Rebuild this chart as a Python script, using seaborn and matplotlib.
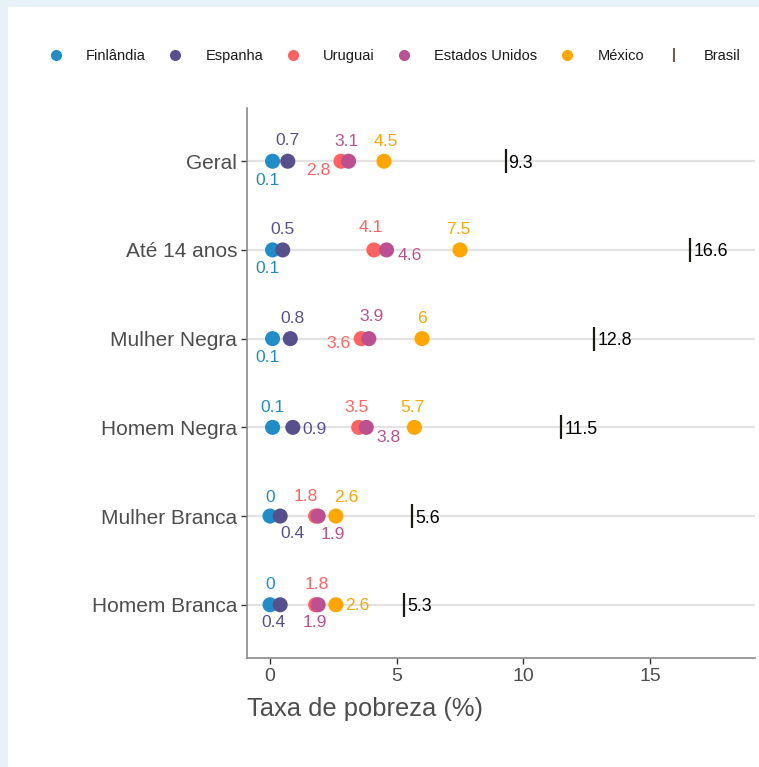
import matplotlib
matplotlib.use("Agg")
import matplotlib.pyplot as plt
from matplotlib.lines import Line2D
from matplotlib.patches import Rectangle
import seaborn as sns
import pandas as pd

# ---------------- data ----------------
categories = ["Geral", "Até 14 anos", "Mulher Negra", "Homem Negra",
              "Mulher Branca", "Homem Branca"]
finlandia = [0.1, 0.1, 0.1, 0.1, 0.0, 0.0]
espanha = [0.7, 0.5, 0.8, 0.9, 0.4, 0.4]
uruguai = [2.8, 4.1, 3.6, 3.5, 1.8, 1.8]
estados_unidos = [3.1, 4.6, 3.9, 3.8, 1.9, 1.9]
mexico = [4.5, 7.5, 6.0, 5.7, 2.6, 2.6]
brasil = [9.3, 16.6, 12.8, 11.5, 5.6, 5.3]

countries = ["Finlândia", "Espanha", "Uruguai", "Estados Unidos", "México"]
series = [finlandia, espanha, uruguai, estados_unidos, mexico]
x_ticks = [0, 5, 10, 15]
x_label = "Taxa de pobreza (%)"

# ---------------- style ----------------
colors = {"Finlândia": "#1f8dc8", "Espanha": "#58508d", "Uruguai": "#ff6361",
          "Estados Unidos": "#bc5090", "México": "#ffa600"}
brasil_color = "#1a1a14"
grey_text = "#4d4d4d"

# label offsets (pixels) per country per row
offsets = {
    "Finlândia": [(-5, -19), (-5, -19), (-5, -19), (0, 20), (0, 19), (0, 20)],
    "Espanha": [(0, 21), (0, 20), (2, 20), (22, -2), (12, -17), (-7, -18)],
    "Uruguai": [(-23, -9), (-3, 22), (-23, -5), (-2, 20), (-10, 20), (1, 20)],
    "Estados Unidos": [(-2, 20), (23, -6), (3, 22), (22, -10), (15, -18), (-3, -18)],
    "México": [(2, 20), (-2, 20), (0, 20), (-2, 20), (10, 19), (21, -1)],
}

rows = []
for c, vals in zip(countries, series):
    for i, v in enumerate(vals):
        rows.append({"pais": c, "cat": categories[i], "pos": i, "valor": v})
df = pd.DataFrame(rows)
df_br = pd.DataFrame({"cat": categories, "pos": range(len(categories)), "valor": brasil})

sns.set_theme(style="white")
plt.rcParams["font.family"] = ["Liberation Sans", "DejaVu Sans"]

W, H = 759, 767
fig = plt.figure(figsize=(W / 100, H / 100), dpi=100)
fig.patch.set_facecolor("#e6f1f8")
fig.add_artist(Rectangle((8 / W, 0), 1, 1 - 7 / H, transform=fig.transFigure,
                         facecolor="white", edgecolor="none", zorder=-10))

ax = fig.add_axes([247 / W, 1 - 658 / H, (755 - 247) / W, (658 - 108) / H])
ax.set_facecolor("white")

# grid lines
for i in range(len(categories)):
    ax.axhline(i, color="#e3e3e3", lw=1.6, zorder=0)

sns.scatterplot(data=df, x="valor", y="pos", hue="pais", hue_order=countries,
                palette=colors, s=118, linewidth=0, ax=ax, legend=False, zorder=3)
sns.scatterplot(data=df_br, x="valor", y="pos", marker="|", s=280, linewidth=1.6,
                color=brasil_color, ax=ax, legend=False, zorder=3)

for c, vals in zip(countries, series):
    for i, v in enumerate(vals):
        dx, dy = offsets[c][i]
        lab = f"{v:g}"
        ax.annotate(lab, xy=(v, i), xytext=(dx, dy), textcoords="offset pixels",
                    ha="center", va="center", fontsize=12.6, color=colors[c], zorder=4)
for i, v in enumerate(brasil):
    ax.annotate(f"{v:g}", xy=(v, i), xytext=(3, -2), textcoords="offset pixels",
                ha="left", va="center", fontsize=12.8, color="black", zorder=4)

ax.set_xlim(-0.91, 19.15)
ax.set_ylim(len(categories) - 0.4, -0.6)
ax.set_yticks(range(len(categories)))
ax.set_yticklabels(categories)
ax.set_xticks(x_ticks)
ax.set_xticklabels([str(t) for t in x_ticks])
ax.tick_params(axis="y", labelsize=15, labelcolor=grey_text, length=4, width=1,
               color="#333333", left=True, pad=3)
ax.tick_params(axis="x", labelsize=14, labelcolor=grey_text, length=4, width=1,
               color="#333333", bottom=True, pad=3)
ax.set_ylabel("")
ax.set_xlabel(x_label, fontsize=18.4, color=grey_text, loc="left", labelpad=9)
for s in ["top", "right"]:
    ax.spines[s].set_visible(False)
for s in ["left", "bottom"]:
    ax.spines[s].set_color("#8a8a8a")
    ax.spines[s].set_linewidth(1.2)

# legend
handles = [Line2D([0], [0], marker="o", linestyle="", markersize=8,
                  markerfacecolor=colors[c], markeredgewidth=0, label=c)
           for c in countries]
handles.append(Line2D([0], [0], marker="|", linestyle="", markersize=10,
                      markeredgewidth=1.5, color="#6e5e55", label="Brasil"))
fig.legend(handles=handles, ncol=6, loc="center",
           bbox_to_anchor=(394.5 / W, 1 - 56 / H), frameon=False, fontsize=10.5,
           handlelength=1.0, handletextpad=1.55, columnspacing=1.55,
           labelcolor="#1a1a1a")

fig.savefig("out.png", dpi=100, facecolor=fig.get_facecolor())
